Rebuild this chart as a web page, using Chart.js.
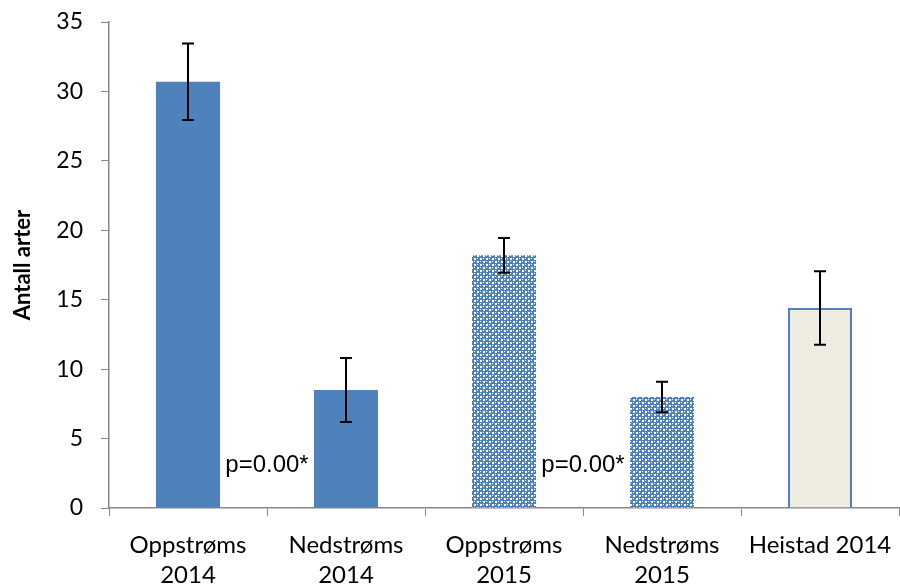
<!DOCTYPE html>
<html><head><meta charset="utf-8">
<script src="https://cdn.jsdelivr.net/npm/chart.js@4/dist/chart.umd.min.js"></script>
<style>html,body{margin:0;padding:0;background:#fff}#wrap{width:900px;height:585px}</style>
</head><body><div id="wrap"><canvas id="c" width="900" height="585"></canvas></div>
<script>
const categories = [["Oppstrøms","2014"],["Nedstrøms","2014"],["Oppstrøms","2015"],["Nedstrøms","2015"],"Heistad 2014"];
const meanValues = [30.7, 8.5, 18.2, 8.0, 14.4];
const errorValues = [2.75, 2.3, 1.25, 1.1, 2.65];
const yTicks = [0,5,10,15,20,25,30,35];
const annotations = [{between:[0,1], value:3.1, text:"p=0.00*"},{between:[2,3], value:3.1, text:"p=0.00*"}];

const BLUE = "#4F81BD";
function makePattern(){
  const t = document.createElement('canvas'); t.width = 6; t.height = 6;
  const g = t.getContext('2d');
  g.fillStyle = BLUE; g.fillRect(0,0,6,6);
  g.fillStyle = "#fff";
  g.fillRect(0,0,2,2); g.fillRect(3,3,2,2); g.fillRect(3,0,1,1); g.fillRect(0,3,1,1);
  return document.getElementById('c').getContext('2d').createPattern(t,'repeat');
}
const pat = makePattern();
const fills = [BLUE, BLUE, pat, pat, "#EEECE1"];
const borders = [BLUE, BLUE, "rgba(0,0,0,0)", "rgba(0,0,0,0)", BLUE];
const bw = [0,0,0,0,2];

const extras = {
  id:'extras',
  afterDatasetsDraw(chart){
    const ctx = chart.ctx, x = chart.scales.x, y = chart.scales.y;
    ctx.save();
    ctx.strokeStyle = "#000"; ctx.lineWidth = 2;
    meanValues.forEach((v,i)=>{
      const px = x.getPixelForValue(i);
      const t = y.getPixelForValue(v+errorValues[i]), b = y.getPixelForValue(v-errorValues[i]);
      ctx.beginPath();
      ctx.moveTo(px,t); ctx.lineTo(px,b);
      ctx.moveTo(px-6,t); ctx.lineTo(px+6,t);
      ctx.moveTo(px-6,b); ctx.lineTo(px+6,b);
      ctx.stroke();
    });
    ctx.fillStyle = "#000"; ctx.font = "24px 'Liberation Sans', Arial, sans-serif";
    ctx.textAlign = "center"; ctx.textBaseline = "middle";
    annotations.forEach(a=>{
      const px = (x.getPixelForValue(a.between[0]) + x.getPixelForValue(a.between[1]))/2;
      ctx.fillText(a.text, px, y.getPixelForValue(a.value));
    });
    ctx.restore();
  }
};

new Chart(document.getElementById('c'), {
  type:'bar',
  data:{labels:categories, datasets:[{data:meanValues, backgroundColor:fills, borderColor:borders, borderWidth:bw,
    categoryPercentage:1, barPercentage:0.405}]},
  options:{
    responsive:false, animation:false, devicePixelRatio:1,
    layout:{padding:{top:22,right:1,left:0,bottom:0}},
    plugins:{legend:{display:false}, tooltip:{enabled:false}},
    scales:{
      x:{offset:true,
        grid:{offset:true, drawOnChartArea:false, drawTicks:true, tickLength:8, color:"#868686"},
        border:{color:"#868686", width:1.5},
        ticks:{color:"#000", font:{family:"Lato", size:24, lineHeight:1.25}, padding:14, maxRotation:0, autoSkip:false},
        afterFit(s){ s.height = 77; s.paddingLeft = 0; s.paddingRight = 0; }
      },
      y:{min:0,max:35,
        afterBuildTicks(s){ s.ticks = yTicks.map(v=>({value:v})); },
        grid:{drawOnChartArea:false, drawTicks:true, tickLength:8, color:"#868686"},
        border:{color:"#868686", width:1.5},
        ticks:{color:"#000", font:{family:"Lato", size:23}, padding:18},
        title:{display:true, text:"Antall arter", color:"#000", font:{family:"Lato", size:22, weight:"bold"}, padding:{top:10,bottom:0}},
        afterFit(s){ s.width = 109; s.paddingTop = 0; s.paddingBottom = 0; }
      }
    }
  },
  plugins:[extras]
});
</script></body></html>
